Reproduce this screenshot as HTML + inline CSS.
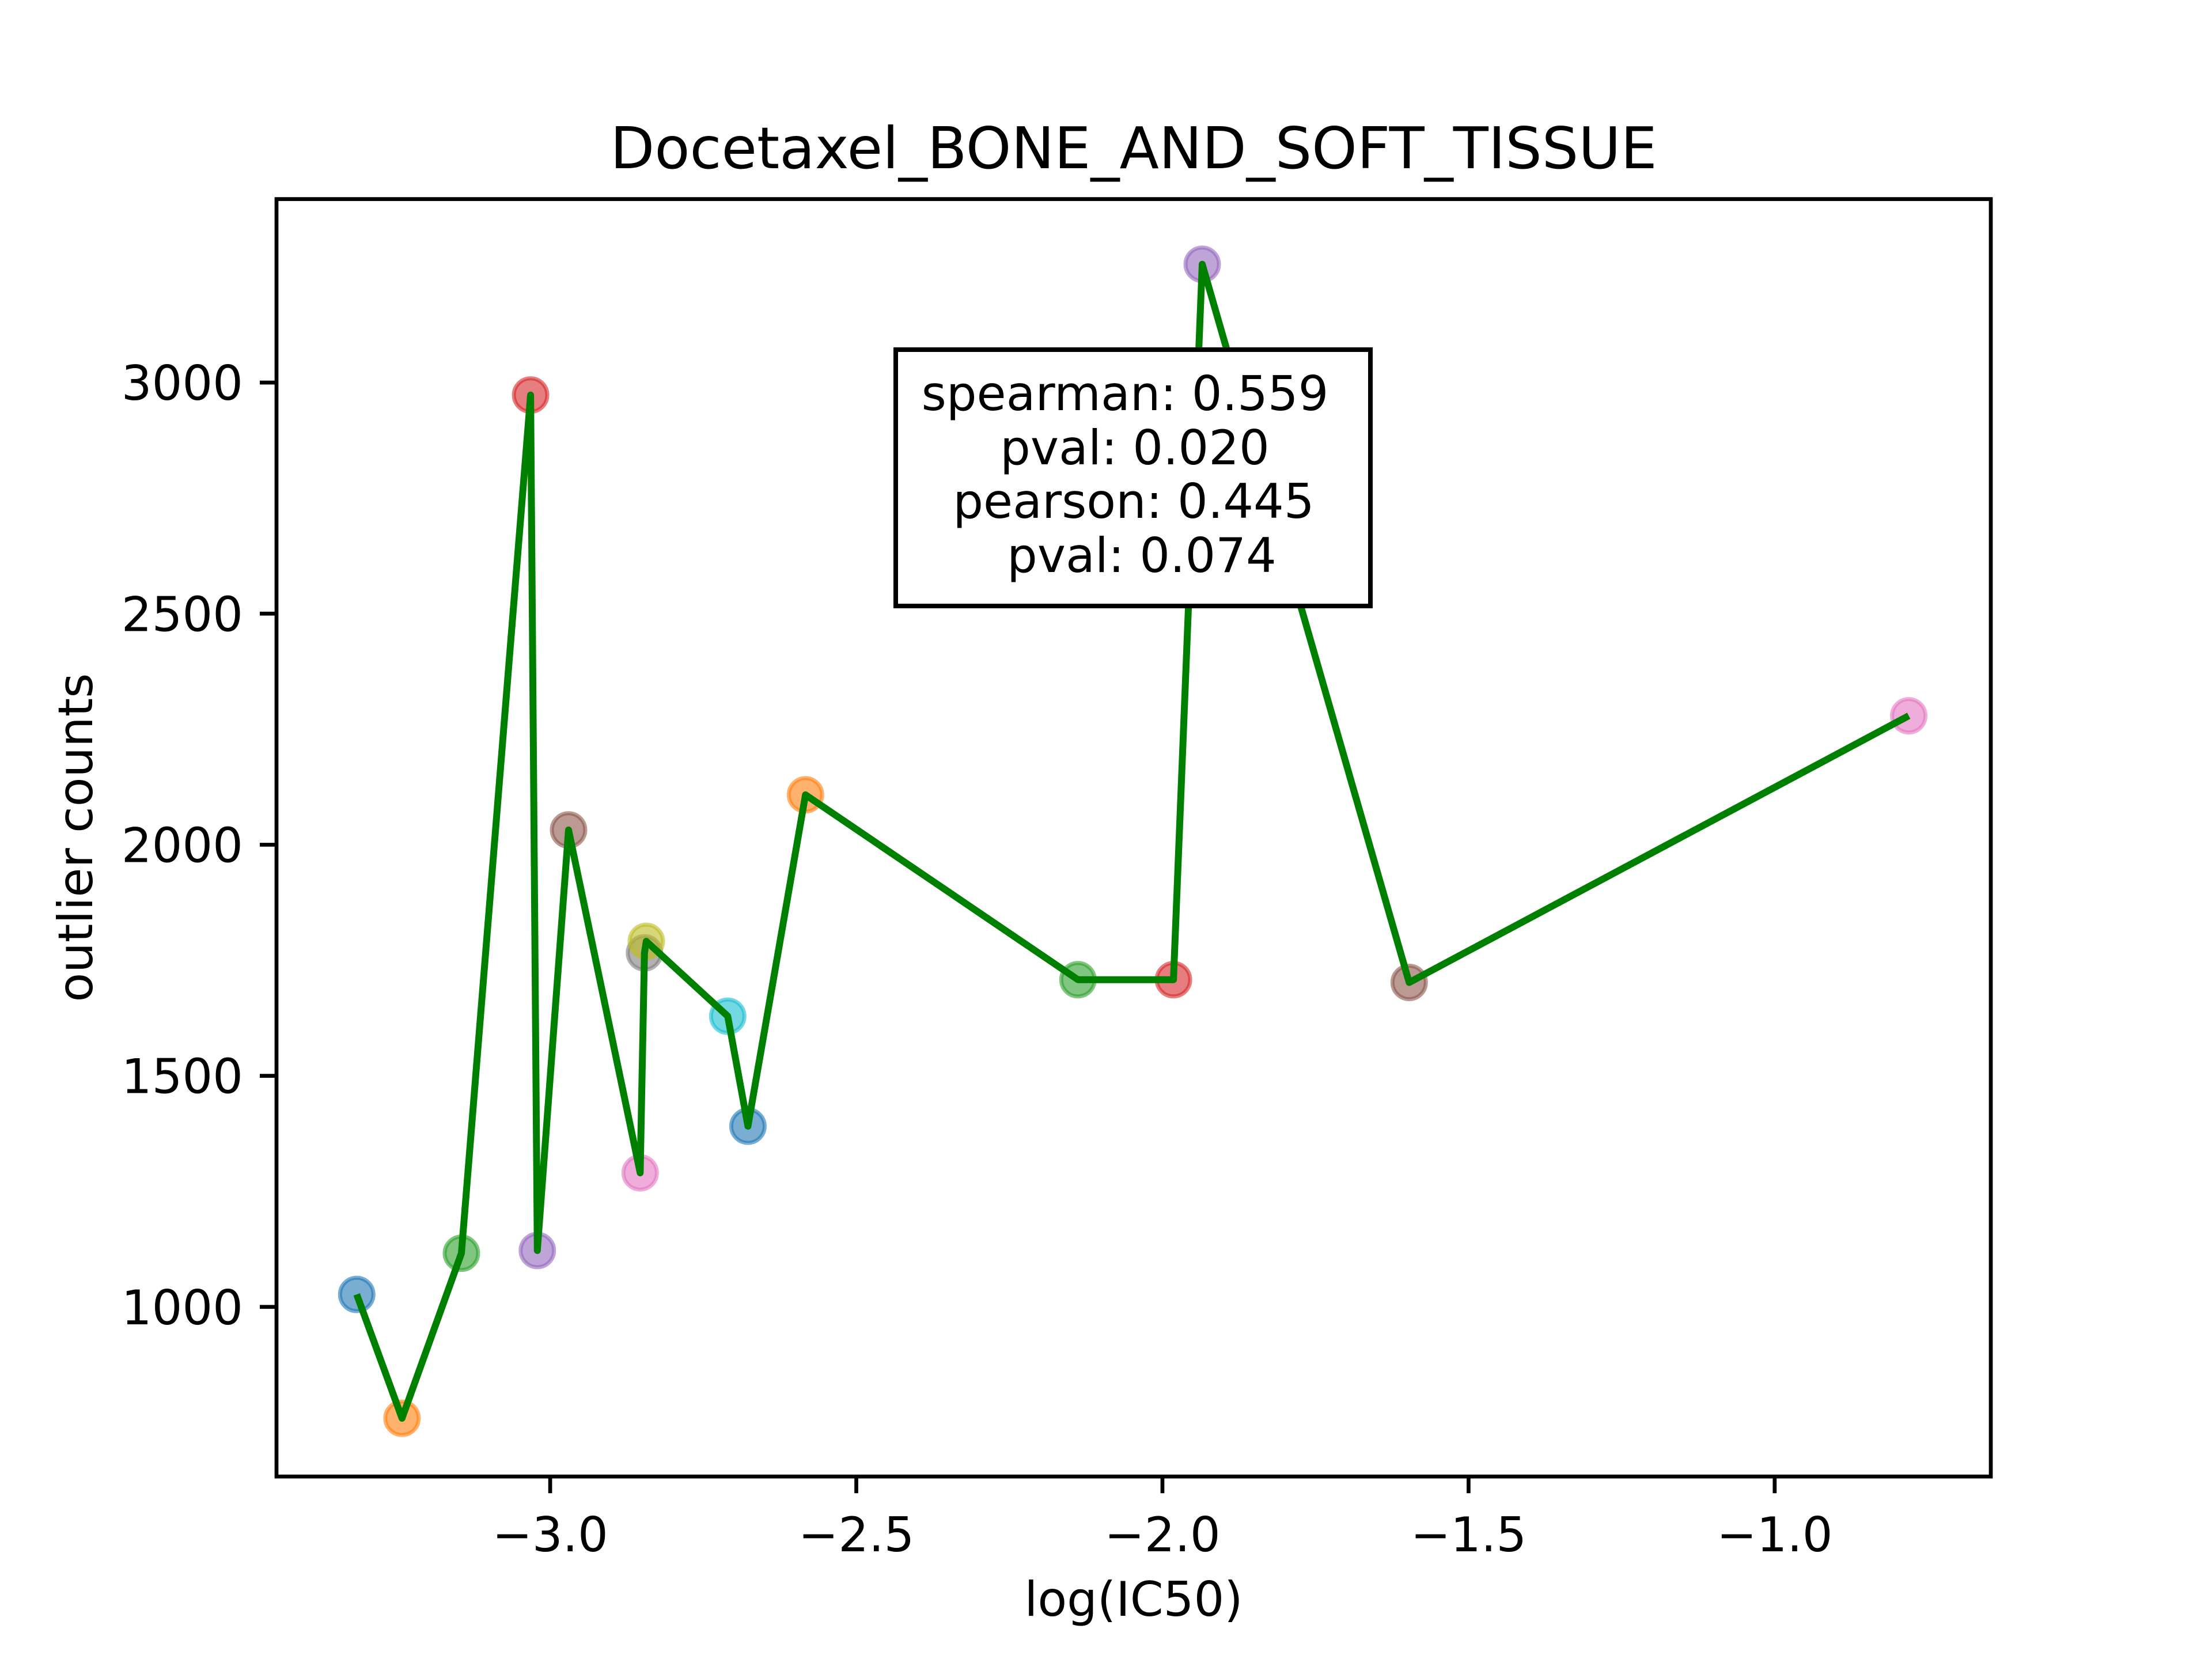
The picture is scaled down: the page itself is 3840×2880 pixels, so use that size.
<!DOCTYPE html>
<html><head><meta charset="utf-8"><style>
html,body{margin:0;padding:0;background:#fff}
svg{display:block}
text{font-family:"DejaVu Sans","Liberation Sans",sans-serif;fill:#000}
</style></head><body>
<svg id="chart" width="3840" height="2880" viewBox="0 0 3840 2880" xmlns="http://www.w3.org/2000/svg">
<rect x="0" y="0" width="3840" height="2880" fill="#fff"/>
<text x="1968" y="292" font-size="100" text-anchor="middle">Docetaxel_BONE_AND_SOFT_TISSUE</text>
<g id="plot"></g>
<g id="xticks"></g>
<g id="yticks"></g>
<text x="1968" y="2805" font-size="83" text-anchor="middle">log(IC50)</text>
<text transform="translate(160,1454) rotate(-90)" font-size="83" text-anchor="middle">outlier counts</text>
<rect x="1555" y="607" width="824" height="445" fill="#fff" stroke="#000" stroke-width="8"/>
<g font-size="83" text-anchor="middle">
<text x="1953" y="712">spearman: 0.559</text>
<text x="1970" y="806">pval: 0.020</text>
<text x="1968" y="899">pearson: 0.445</text>
<text x="1982" y="993">pval: 0.074</text>
</g>
<rect x="480" y="345.6" width="2976" height="2217.6" fill="none" stroke="#000" stroke-width="6.7"/>
</svg>
<script>
const xValues = [-3.316,-3.242,-3.145,-3.032,-3.021,-2.970,-2.853,-2.846,-2.843,-2.710,-2.677,-2.583,-2.138,-1.982,-1.935,-1.597,-0.781];
const yValues = [1027,759,1116,2973,1122,2032,1290,1766,1791,1629,1391,2108,1708,1708,3256,1702,2279];
const xTicks = [-3.0,-2.5,-2.0,-1.5,-1.0];
const xTickLabels = ["\u22123.0","\u22122.5","\u22122.0","\u22121.5","\u22121.0"];
const yTicks = [1000,1500,2000,2500,3000];
const yTickLabels = ["1000","1500","2000","2500","3000"];
const colors = ["#1f77b4","#ff7f0e","#2ca02c","#d62728","#9467bd","#8c564b","#e377c2","#7f7f7f","#bcbd22","#17becf"];

const L=480,R=3456,T=345.6,B=2563.2;
const xMin=-3.447,xMax=-0.647,yMin=633,yMax=3397;
const sx=v=>L+(v-xMin)/(xMax-xMin)*(R-L);
const sy=v=>B-(v-yMin)/(yMax-yMin)*(B-T);
const NS="http://www.w3.org/2000/svg";
const mk=(t,a)=>{const e=document.createElementNS(NS,t);for(const k in a)e.setAttribute(k,a[k]);return e;};
const plot=document.getElementById('plot');
xValues.forEach((x,i)=>{
  const c=mk('circle',{cx:sx(x),cy:sy(yValues[i]),r:29,fill:colors[i%10],'fill-opacity':0.6,stroke:colors[i%10],'stroke-opacity':0.6,'stroke-width':7});
  
  
  plot.appendChild(c);
});
const line=mk('polyline',{points:xValues.map((x,i)=>sx(x)+','+sy(yValues[i])).join(' '),fill:'none',stroke:'#008000','stroke-width':12,'stroke-linejoin':'round'});


plot.appendChild(line);
const xg=document.getElementById('xticks');
xTicks.forEach((v,i)=>{
  const x=sx(v);
  const t=mk('line',{x1:x,x2:x,y1:B,y2:B+29,stroke:'#000','stroke-width':6.7});
  
  
  xg.appendChild(t);
  const l=mk('text',{x:x,y:B+130,'font-size':83,'text-anchor':'middle'});
  l.textContent=xTickLabels[i];
  
  
  xg.appendChild(l);
});
const yg=document.getElementById('yticks');
yTicks.forEach((v,i)=>{
  const y=sy(v);
  const t=mk('line',{x1:L-29,x2:L,y1:y,y2:y,stroke:'#000','stroke-width':6.7});
  
  
  yg.appendChild(t);
  const l=mk('text',{x:L-58,y:y+30,'font-size':83,'text-anchor':'end'});
  l.textContent=yTickLabels[i];
  
  
  yg.appendChild(l);
});
</script>
</body></html>
